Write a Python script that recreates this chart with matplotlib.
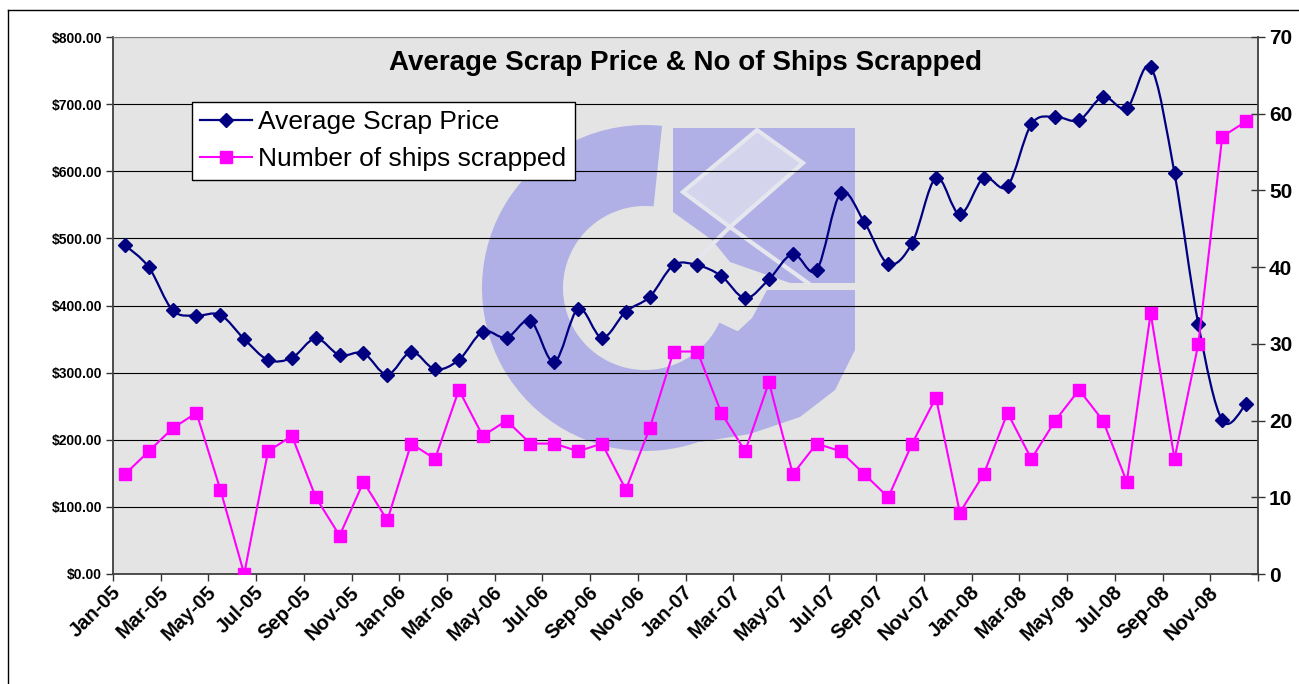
import numpy as np
import matplotlib.pyplot as plt
import matplotlib.patches as mpatches
import matplotlib.transforms as mtransforms
from matplotlib.path import Path
from matplotlib.lines import Line2D
from matplotlib.ticker import FuncFormatter

plt.rcParams.update({
    'font.family': ['Liberation Sans', 'DejaVu Sans'],
    'figure.facecolor': 'white',
})

# ---------------- data ----------------
month_names = ['Jan', 'Feb', 'Mar', 'Apr', 'May', 'Jun',
               'Jul', 'Aug', 'Sep', 'Oct', 'Nov', 'Dec']
years = ['05', '06', '07', '08']
months = [f'{m}-{y}' for y in years for m in month_names]

scrap_price = [490, 457, 393, 385, 386, 350, 319, 322, 351, 326, 329, 297,
               331, 305, 319, 361, 352, 377, 316, 395, 352, 391, 413, 460,
               460, 444, 411, 439, 477, 453, 567, 524, 462, 493, 590, 536,
               590, 578, 670, 681, 676, 711, 694, 755, 597, 372, 229, 253]

ships_scrapped = [13, 16, 19, 21, 11, 0, 16, 18, 10, 5, 12, 7,
                  17, 15, 24, 18, 20, 17, 17, 16, 17, 11, 19, 29,
                  29, 21, 16, 25, 13, 17, 16, 13, 10, 17, 23, 8,
                  13, 21, 15, 20, 24, 20, 12, 34, 15, 30, 57, 59]

price_ticks = [0, 100, 200, 300, 400, 500, 600, 700, 800]
ship_ticks = [0, 10, 20, 30, 40, 50, 60, 70]

navy = '#000080'
magenta = '#FF00FF'
logo_col = '#b0b0e6'
plot_bg = '#e4e4e4'

# ---------------- figure / axes ----------------
W, H = 1299, 684
fig = plt.figure(figsize=(W / 100, H / 100), dpi=100)
L, R, T, B = 113, 1258, 37, 574
ax = fig.add_axes([L / W, 1 - B / H, (R - L) / W, (B - T) / H])
ax.set_facecolor(plot_bg)
ax2 = ax.twinx()

n = len(months)
xs = np.arange(n)

# ---------------- watermark logo (pixel coords, y down) ----------------
pix = mtransforms.Affine2D().scale(1, -1).translate(0, H)


def logo_patch(p, color, z):
    p.set_transform(pix)
    p.set_facecolor(color)
    p.set_edgecolor('none')
    p.set_zorder(z)
    ax.add_patch(p)


logo_patch(mpatches.Wedge((645, 288), 163, 25, 276, width=81), logo_col, 0.3)
logo_patch(mpatches.Polygon([(767, 290), (855, 290), (855, 350), (835, 390), (800, 417),
                             (750, 434), (700, 442), (688, 360), (725, 343), (752, 318)]),
           logo_col, 0.3)
logo_patch(mpatches.Rectangle((673, 128), 182, 155), logo_col, 0.3)
# light area below the diamond, merging with the ring hole
logo_patch(mpatches.Polygon([(673, 212), (712, 240), (730, 262), (790, 283), (673, 283)]),
           plot_bg, 0.31)
# diamond outline
ax.add_patch(mpatches.Polygon([(757, 130), (803, 163), (730, 227), (683, 192)],
                              closed=True, facecolor='#d4d4ec', edgecolor='#e6e6ee',
                              lw=3, transform=pix, zorder=0.32))
for seg in [[(730, 227), (808, 283)], [(730, 227), (700, 256)]]:
    ax.add_line(Line2D([seg[0][0], seg[1][0]], [seg[0][1], seg[1][1]],
                       color='#e6e6ee', lw=3, transform=pix, zorder=0.33))

# ---------------- price series (smoothed line like Excel) ----------------
pts = np.column_stack([xs, scrap_price]).astype(float)
verts = [pts[0]]
codes = [Path.MOVETO]
for i in range(n - 1):
    p0 = pts[i - 1] if i > 0 else pts[i]
    p3 = pts[i + 2] if i + 2 < n else pts[i + 1]
    c1 = pts[i] + (pts[i + 1] - p0) / 6
    c2 = pts[i + 1] - (p3 - pts[i]) / 6
    verts += [c1, c2, pts[i + 1]]
    codes += [Path.CURVE4] * 3
ax.add_patch(mpatches.PathPatch(Path(verts, codes), fill=False, edgecolor=navy,
                                lw=1.6, zorder=2))
ax.plot(xs, scrap_price, ls='none', marker='D', ms=6.8, color=navy, zorder=3)

# ---------------- ships series ----------------
ax2.plot(xs, ships_scrapped, color=magenta, lw=1.5, marker='s', ms=9,
         markeredgecolor=magenta, zorder=3)

# ---------------- axes formatting ----------------
ax.set_xlim(-0.5, n - 0.5)
ax.set_ylim(0, 800)
ax2.set_ylim(0, 70)

ax.set_yticks(price_ticks)
ax.yaxis.set_major_formatter(FuncFormatter(lambda v, p: f'${v:,.2f}'))
ax.tick_params(axis='y', direction='out', length=5, width=1, pad=3,
               labelsize=10, colors='#333333', labelcolor='black')
for lab in ax.get_yticklabels():
    lab.set_fontweight('bold')

ax2.set_yticks(ship_ticks)
ax2.tick_params(axis='y', direction='inout', length=10, width=1, pad=3,
                labelsize=15, colors='#333333', labelcolor='black')
for lab in ax2.get_yticklabels():
    lab.set_fontweight('bold')

ax.set_xticks(np.arange(-0.5, n, 2))
ax.set_xticklabels([])
ax.set_xticks(xs[::2] - 0.3, minor=True)
ax.set_xticklabels(months[::2], minor=True, rotation=45, ha='right', va='center',
                   rotation_mode='anchor', fontsize=14.5, fontweight='bold')
ax.tick_params(axis='x', which='major', direction='out', length=5, width=1, colors='#333333')
ax.tick_params(axis='x', which='minor', length=0, pad=11)

ax.yaxis.grid(True, color='black', lw=0.8)
ax.set_axisbelow(True)

for s in ['left', 'bottom']:
    ax.spines[s].set_color('#404040')
    ax.spines[s].set_linewidth(1.3)
ax.spines['top'].set_color('#808080')
ax.spines['top'].set_linewidth(0.8)
ax.spines['right'].set_visible(False)
for s in ['left', 'bottom', 'top']:
    ax2.spines[s].set_visible(False)
ax2.spines['right'].set_color('#404040')
ax2.spines['right'].set_linewidth(1.3)

# ---------------- title & legend ----------------
ax.text(0.5, 0.951, 'Average Scrap Price & No of Ships Scrapped', transform=ax.transAxes,
        ha='center', va='center', fontsize=20, fontweight='bold', zorder=5)

handles = [Line2D([], [], color=navy, lw=1.6, marker='D', ms=6.8),
           Line2D([], [], color=magenta, lw=1.5, marker='s', ms=9)]
leg = ax2.legend(handles, ['Average Scrap Price', 'Number of ships scrapped'],
                 loc='upper left', bbox_to_anchor=((192 - L) / (R - L), (B - 102) / (B - T)),
                 borderaxespad=0, fontsize=19, frameon=True, fancybox=False,
                 edgecolor='black', framealpha=1, handlelength=1.95, handletextpad=0.25,
                 labelspacing=0.48, borderpad=0.32)
leg.get_frame().set_linewidth(1)

# outer chart border (cropped on right and bottom)
fig.add_artist(Line2D([8 / W, 8 / W], [0, 1 - 10 / H], transform=fig.transFigure,
                      color='black', lw=1))
fig.add_artist(Line2D([8 / W, 1], [1 - 10 / H, 1 - 10 / H], transform=fig.transFigure,
                      color='black', lw=1))

fig.savefig('out.png', dpi=100)
plt.close()
print('Saved out.png')
